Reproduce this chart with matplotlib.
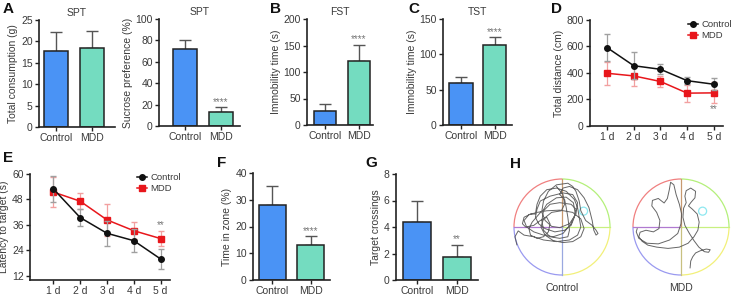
import numpy as np
import matplotlib
matplotlib.use('Agg')
import matplotlib.pyplot as plt
from matplotlib.patches import Arc, Circle

plt.rcParams['font.family'] = ['Liberation Sans', 'DejaVu Sans']

# ---------------- data ----------------
groups = ['Control', 'MDD']
spt_consumption = [17.8, 18.5]
spt_consumption_err = [4.5, 4.0]
spt_pref = [71.7, 12.8]
spt_pref_err = [9.0, 4.6]
fst = [27, 121]
fst_err = [12, 30]
tst = [59, 113]
tst_err = [9, 11]
days = ['1 d', '2 d', '3 d', '4 d', '5 d']
dist_ctrl = [592, 455, 428, 342, 315]
dist_ctrl_err = [100, 100, 38, 25, 45]
dist_mdd = [398, 378, 336, 248, 250]
dist_mdd_err = [85, 75, 45, 65, 80]
lat_ctrl = [53.0, 39.5, 32.1, 28.6, 20.0]
lat_ctrl_err = [6.0, 4.0, 6.0, 5.5, 4.5]
lat_mdd = [51.5, 47.2, 38.4, 33.3, 29.6]
lat_mdd_err = [7.0, 3.8, 7.5, 4.0, 3.5]
zone = [28.0, 13.1]
zone_err = [7.0, 3.2]
crossings = [4.35, 1.72]
crossings_err = [1.65, 0.95]

# swim paths (pixel coords of a 3x crop; center / radius below)
ctrl_track_x = [18, 12, 22, 40, 70, 100, 140, 180, 205, 215, 210, 205, 195, 170, 140, 110, 90, 80, 75, 60, 40, 35, 45, 70, 90, 110, 120, 115, 100, 80, 60, 55, 65, 95, 100, 115, 140, 175, 190, 200, 210, 215, 230, 250, 262, 268, 262, 255, 250, 240, 225, 205, 180, 160, 150, 165, 170, 175, 180, 175, 150, 120, 100, 95, 100, 120, 150, 185, 200, 195, 185, 165, 135, 105, 85, 75, 80, 90, 120, 160, 190, 205, 200, 180, 150, 125, 105, 95, 110, 140, 170, 192, 198, 185, 160, 130, 100, 70, 48, 40, 55, 80, 110, 150, 190, 215, 225, 215, 190, 160, 130, 105, 92, 100, 125, 155, 165, 160, 140]
ctrl_track_y = [225, 200, 182, 195, 200, 210, 215, 210, 195, 170, 140, 110, 85, 60, 50, 55, 75, 100, 130, 130, 140, 160, 170, 165, 150, 140, 160, 185, 200, 205, 195, 175, 155, 120, 90, 60, 40, 35, 45, 60, 90, 120, 150, 165, 180, 190, 195, 180, 150, 110, 80, 55, 45, 50, 70, 85, 110, 140, 180, 200, 205, 200, 180, 150, 120, 100, 95, 100, 115, 140, 165, 180, 185, 175, 160, 140, 115, 90, 75, 65, 70, 95, 130, 160, 172, 168, 150, 125, 100, 80, 78, 95, 130, 160, 190, 200, 195, 185, 170, 150, 132, 125, 120, 118, 125, 145, 175, 200, 215, 218, 212, 195, 170, 145, 125, 120, 100, 70, 45]
mdd_track_x = [188, 190, 196, 205, 220, 238, 250, 245, 232, 215, 200, 186, 172, 166, 168, 176, 172, 176, 190, 205, 203, 190, 183, 195, 210, 216, 212, 200, 182, 155, 120, 85, 58, 40, 30, 34, 52, 75, 92, 95, 85, 70, 72, 90, 108, 118, 124, 128, 138, 145, 155, 162, 160, 150, 125, 90, 55, 30, 22, 25]
mdd_track_y = [296, 275, 262, 250, 243, 238, 240, 248, 246, 232, 212, 190, 165, 140, 112, 95, 75, 58, 50, 60, 80, 95, 105, 115, 130, 155, 180, 200, 220, 232, 236, 232, 226, 214, 200, 186, 180, 185, 175, 150, 125, 105, 88, 82, 96, 82, 55, 32, 40, 70, 100, 130, 160, 190, 210, 222, 220, 205, 185, 175]

# ---------------- layout ----------------
W, H = 734, 295
fig = plt.figure(figsize=(W / 100, H / 100), dpi=100)
fig.patch.set_facecolor('white')

TXT = '#3a3a3a'
BLUE = '#4a93f5'
TEAL = '#74dcc0'
RED = '#e8161b'


def px(l, t, r, b):
    return [l / W, 1 - b / H, (r - l) / W, (b - t) / H]


def style(ax):
    for s in ['top', 'right']:
        ax.spines[s].set_visible(False)
    for s in ['left', 'bottom']:
        ax.spines[s].set_linewidth(1.2)
        ax.spines[s].set_color('#222222')
    ax.tick_params(direction='out', length=3, width=1, labelsize=7.5,
                   labelcolor=TXT, color='#222222', pad=1.5)


def bar_panel(box, vals, errs, ylim, yticks, ylabel, xlim, width,
              title=None, star=None):
    ax = fig.add_axes(px(*box))
    x = np.arange(len(groups))
    ax.bar(x, vals, width=width, color=[BLUE, TEAL], edgecolor='#222222',
           linewidth=1.1, zorder=2)
    ax.errorbar(x, vals, yerr=[np.zeros(len(vals)), errs], fmt='none',
                ecolor='#555555', elinewidth=1, capsize=4, capthick=1, zorder=1)
    ax.set_ylim(*ylim)
    ax.set_yticks(yticks)
    ax.set_xlim(*xlim)
    ax.set_xticks(x)
    ax.set_xticklabels(groups)
    ax.set_ylabel(ylabel, fontsize=7.5, color=TXT, labelpad=2)
    style(ax)
    if title:
        ax.set_title(title, fontsize=7.5, color=TXT, pad=3)
    if star:
        ax.annotate(star, (1, vals[1] + errs[1]), xytext=(0, 0.5),
                    textcoords='offset points', ha='center', va='bottom',
                    fontsize=7, color='#777777')
    return ax


def line_panel(box, c, ce, m, me, ylim, yticks, ylabel, xlim, leg_xy,
               star_y):
    ax = fig.add_axes(px(*box))
    x = np.arange(1, len(days) + 1)
    ax.errorbar(x, m, yerr=me, color=RED, marker='s', ms=4, lw=1.1,
                ecolor='#f2a0a0', elinewidth=0.9, capsize=2.5, label='MDD',
                zorder=2)
    ax.errorbar(x, c, yerr=ce, color='#111111', marker='o', ms=4, lw=1.1,
                ecolor='#a0a0a0', elinewidth=0.9, capsize=2.5, label='Control',
                zorder=3)
    ax.set_ylim(*ylim)
    ax.set_yticks(yticks)
    ax.set_xlim(*xlim)
    ax.set_xticks(x)
    ax.set_xticklabels(days)
    ax.set_ylabel(ylabel, fontsize=7.5, color=TXT, labelpad=2)
    style(ax)
    h, l = ax.get_legend_handles_labels()
    h = [hh[0] for hh in h]
    leg = fig.legend(h[::-1], l[::-1], loc='upper left',
                     bbox_to_anchor=(leg_xy[0] / W, 1 - leg_xy[1] / H),
                     frameon=False, fontsize=6.8, handlelength=1.1,
                     handletextpad=0.3, labelspacing=0.25, borderpad=0,
                     borderaxespad=0)
    for t in leg.get_texts():
        t.set_color(TXT)
    ax.text(5, star_y, '**', ha='center', va='center', fontsize=7,
            color='#777777')
    return ax


# A
bar_panel((39, 20, 115, 127), spt_consumption, spt_consumption_err, (0, 25),
          range(0, 26, 5), 'Total consumption (g)', (-0.472, 1.639), 0.667,
          title='SPT')
bar_panel((159, 19, 240, 126), spt_pref, spt_pref_err, (0, 100),
          range(0, 101, 20), 'Sucrose preference (%)', (-0.72, 1.53), 0.667,
          title='SPT', star='****')
# B
bar_panel((307, 19, 373, 125), fst, fst_err, (0, 200), range(0, 201, 50),
          'Immobility time (s)', (-0.54, 1.43), 0.66, title='FST', star='****')
# C
bar_panel((443, 19, 512, 125), tst, tst_err, (0, 150), range(0, 151, 50),
          'Immobility time (s)', (-0.54, 1.52), 0.7, title='TST', star='****')
# D
line_panel((590, 20, 723, 126), dist_ctrl, dist_ctrl_err, dist_mdd,
           dist_mdd_err, (0, 800), range(0, 801, 200), 'Total distance (cm)',
           (0.364, 5.34), (688, 20), 125)
# E
line_panel((30, 174, 170, 280), lat_ctrl, lat_ctrl_err, lat_mdd, lat_mdd_err,
           (10.1, 60), range(12, 61, 12), 'Latency to target (s)',
           (0.13, 5.35), (137, 173), 36)
# F
bar_panel((253, 173, 330, 280), zone, zone_err, (0, 40), range(0, 41, 10),
          'Time in zone (%)', (-0.513, 1.513), 0.72, star='****')
# G
bar_panel((396, 174, 478, 280), crossings, crossings_err, (0, 8),
          range(0, 9, 2), 'Target crossings', (-0.525, 1.525), 0.7, star='**')

# H: swim paths (pixel-like coords, y pointing down)
axh = fig.add_axes(px(500, 165, 734, 295))
axh.set_xlim(500, 734)
axh.set_ylim(295, 165)
axh.set_aspect('auto')
axh.axis('off')

R = 48


def pool(cx, cy, tx, ty, tcx, tcy, label, vbottom):
    # y axis is inverted, so angles run clockwise on screen
    quads = [(0, 90, '#f2f07a'), (90, 180, '#9a9af0'),
             (180, 270, '#f08080'), (270, 360, '#b4f07a')]
    for a1, a2, col in quads:
        axh.add_patch(Arc((cx, cy), 2 * R, 2 * R, theta1=a1, theta2=a2,
                          color=col, lw=0.9))
    axh.plot([cx - R, cx], [cy, cy], color='#b07ad0', lw=0.9)
    axh.plot([cx, cx + R], [cy, cy], color='#c8f080', lw=0.9)
    axh.plot([cx, cx], [cy - R, cy], color='#c89a70', lw=0.9)
    axh.plot([cx, cx], [cy, cy + R], color=vbottom, lw=0.9)
    axh.add_patch(Circle((cx + 0.45 * R, cy - 0.33 * R), 4, fill=False,
                         color='#8ee8f0', lw=0.9))
    xs = cx + (np.array(tx) - tcx) / 145 * R * 0.98
    ys = cy + (np.array(ty) - tcy) / 145 * R * 0.98
    axh.plot(xs, ys, color='#555555', lw=0.7, alpha=0.9,
             solid_joinstyle='round')
    axh.text(cx, 288, label, ha='center', va='center', fontsize=7.5,
             color=TXT)


pool(562, 227, ctrl_track_x, ctrl_track_y, 157, 170, 'Control', '#9aa8e0')
pool(681, 227, mdd_track_x, mdd_track_y, 160, 170, 'MDD', '#c8c080')

# panel letters
for letter, (lx, ly) in {'A': (3, 2), 'B': (270, 2), 'C': (408, 2),
                         'D': (551, 2), 'E': (3, 151), 'F': (217, 156),
                         'G': (365, 156), 'H': (510, 157)}.items():
    fig.text(lx / W, 1 - ly / H, letter, ha='left', va='top',
             fontsize=11, fontweight='bold', color='#111111')

fig.savefig('out.png', dpi=100, facecolor='white')
